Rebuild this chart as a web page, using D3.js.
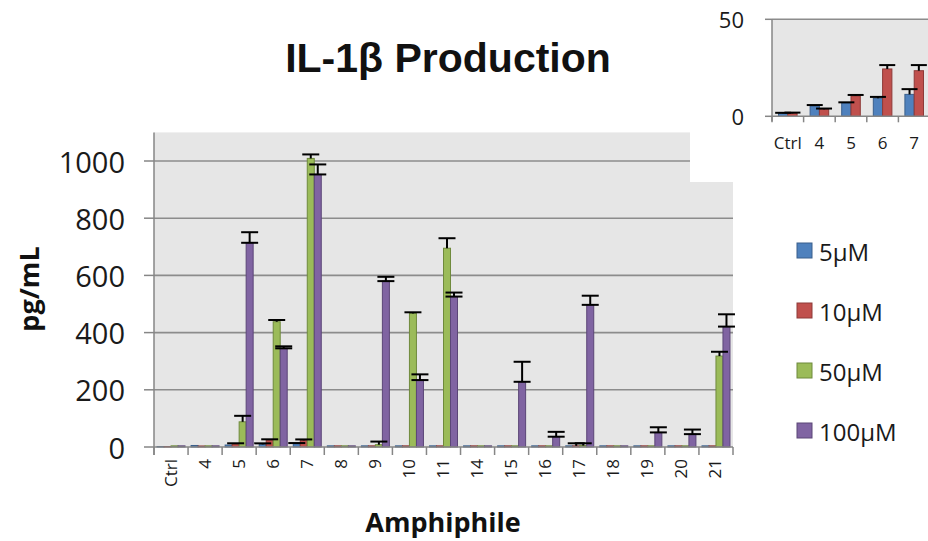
<!DOCTYPE html>
<html><head><meta charset="utf-8">
<script src="https://cdn.jsdelivr.net/npm/d3@7"></script>
<style>body{margin:0;background:#fff}svg{display:block}</style>
</head><body>
<svg id="c" width="928" height="541"></svg>
<script>
// ---- data ----
const categories = ["Ctrl","4","5","6","7","8","9","10","11","14","15","16","17","18","19","20","21"];
const seriesNames = ["5µM","10µM","50µM","100µM"];
const v5   = [1.5,5.3,6.9,9.3,11.3,4,4,4,4,4,4,4,4,4,4,4,4];
const v10  = [1.5,3.6,10.5,24.4,23.5,4,4,4,4,4,4,4,4,4,4,4,4];
const v50  = [4,4,88,438,1009,4,8,467,695,4,4,4,5,4,4,4,318];
const v100 = [4,4,714,345,953,4,580,234,526,4,228,36,497,4,51,45,421];
const e5   = [0,0,0,3.5,2.5,0,0,0,0,0,0,0,0,0,0,0,0];
const e10  = [0,0,2.5,2.5,3,0,0,0,0,0,0,0,9,0,0,0,0];
const e50  = [0,0,21,6,14,0,11,4,35,0,0,0,8,0,0,0,15];
const e100 = [0,0,37,7,35,0,15,20,14,0,70,17,32,0,18,16,43];
// inset (5µM and 10µM, zoomed 0-50)
const insetSeries = ["5µM","10µM"];
const insetVal5  = [1.5,5.3,6.9,9.3,11.3,1.5,1.5,1.5,1.5,1.5,1.5,1.5,1.5,1.5,1.5,1.5,1.5];
const insetVal10 = [1.5,3.6,10.5,24.4,23.5,1.5,1.5,1.5,1.5,1.5,1.5,1.5,1.5,1.5,1.5,1.5,1.5];
const insetErr5  = [0.3,0.5,0.3,0.7,2.7,0.3,0.3,0.3,0.3,0.3,0.3,0.3,0.3,0.3,0.3,0.3,0.3];
const insetErr10 = [0.4,0.4,0.5,2.0,2.9,0.3,0.3,0.3,0.3,0.3,0.3,0.3,0.3,0.3,0.3,0.3,0.3];
const yTicks = [0,200,400,600,800,1000];
const insetTicks = [0,50];

const values = [v5,v10,v50,v100];
const errors = [e5,e10,e50,e100];
const fills   = ["#4F81BD","#C0504D","#9BBB59","#8064A2"];
const strokes = ["#3A5F8C","#8E3A38","#6F8A3C","#5B4677"];

const svg = d3.select("#c");
const FONT = "'Open Sans', sans-serif";
const W = 928;

// ---- main chart ----
const x0 = d3.scaleBand().domain(categories).range([154,733]);
const x1 = d3.scaleBand().domain(seriesNames).range([0,x0.bandwidth()]).paddingInner(0).paddingOuter(0.433);
const y = d3.scaleLinear().domain([0,1000]).range([447,161]);
const yTop = 1100;

svg.append("rect").attr("x",x0.range()[0]).attr("y",y(yTop))
  .attr("width",x0.range()[1]-x0.range()[0]).attr("height",y(0)-y(yTop)).attr("fill","#E6E6E6");

svg.append("g").selectAll("line").data(yTicks.filter(d=>d>0)).join("line")
  .attr("x1",x0.range()[0]).attr("x2",x0.range()[1]).attr("y1",d=>y(d)).attr("y2",d=>y(d))
  .attr("stroke","#8C8C8C").attr("stroke-width",1.6);

// bars
const bars = svg.append("g");
seriesNames.forEach((s,si)=>{
  bars.append("g").selectAll("rect").data(categories.map((c,i)=>({c,v:values[si][i]}))).join("rect")
    .attr("x",d=>x0(d.c)+x1(s)).attr("width",x1.bandwidth())
    .attr("y",d=>y(d.v)).attr("height",d=>y(0)-y(d.v))
    .attr("fill",fills[si]).attr("stroke",strokes[si]).attr("stroke-width",1);
});
// error bars
const eg = svg.append("g").attr("stroke","#000").attr("stroke-width",2);
const capW = 17;
seriesNames.forEach((s,si)=>{
  categories.forEach((c,i)=>{
    const e = errors[si][i]; if(!e) return;
    const v = values[si][i];
    const cx = x0(c)+x1(s)+x1.bandwidth()/2;
    eg.append("line").attr("x1",cx).attr("x2",cx).attr("y1",y(v)).attr("y2",y(v+e));
    eg.append("line").attr("x1",cx-capW/2).attr("x2",cx+capW/2).attr("y1",y(v+e)).attr("y2",y(v+e));
    if(si===3) eg.append("line").attr("x1",cx-capW/2).attr("x2",cx+capW/2).attr("y1",y(v)).attr("y2",y(v));
  });
});

// axes
const axisColor = "#868686";
svg.append("line").attr("x1",154).attr("x2",154).attr("y1",y(yTop)).attr("y2",455).attr("stroke",axisColor).attr("stroke-width",1.5);
svg.append("line").attr("x1",154).attr("x2",733).attr("y1",y(0)).attr("y2",y(0)).attr("stroke",axisColor).attr("stroke-width",1.5);
svg.append("g").selectAll("line").data(yTicks).join("line")
  .attr("x1",144).attr("x2",154).attr("y1",d=>y(d)).attr("y2",d=>y(d)).attr("stroke",axisColor).attr("stroke-width",1.5);
const bounds = categories.map(c=>x0(c)).concat([x0.range()[1]]);
svg.append("g").selectAll("line").data(bounds).join("line")
  .attr("x1",d=>d).attr("x2",d=>d).attr("y1",y(0)).attr("y2",455).attr("stroke",axisColor).attr("stroke-width",1.5);

svg.append("g").selectAll("text").data(yTicks).join("text")
  .attr("x",125).attr("y",d=>y(d)).attr("dominant-baseline","central").attr("text-anchor","end")
  .attr("font-family",FONT).attr("font-size",29).attr("fill","#1a1a1a").text(d=>d);

svg.append("g").selectAll("text").data(categories).join("text")
  .attr("transform",d=>`translate(${x0(d)+x0.bandwidth()/2-1},459) rotate(-90)`)
  .attr("text-anchor","end").attr("dominant-baseline","central")
  .attr("font-family",FONT).attr("font-size",17).attr("fill","#1a1a1a").text(d=>d);

// titles
svg.append("text").attr("x",448).attr("y",72).attr("text-anchor","middle")
  .attr("font-family","'Liberation Sans', Arial, sans-serif").attr("font-weight","bold").attr("font-size",41)
  .attr("fill","#111").text("IL-1β Production");
svg.append("text").attr("x",443).attr("y",532).attr("text-anchor","middle")
  .attr("font-family",FONT).attr("font-weight","bold").attr("font-size",27).attr("fill","#111").text("Amphiphile");
svg.append("text").attr("transform","translate(39,289) rotate(-90)").attr("text-anchor","middle")
  .attr("font-family",FONT).attr("font-weight","bold").attr("font-size",27).attr("fill","#111").text("pg/mL");

// legend
const lg = svg.append("g");
seriesNames.forEach((s,i)=>{
  const cy = 251 + i*60;
  lg.append("rect").attr("x",797).attr("y",cy-8).attr("width",15).attr("height",15)
    .attr("fill",fills[i]).attr("stroke",strokes[i]).attr("stroke-width",1);
  lg.append("text").attr("x",819).attr("y",cy).attr("dominant-baseline","central")
    .attr("font-family",FONT).attr("font-size",24).attr("fill","#1a1a1a").text(s);
});

// ---- inset ----
svg.append("rect").attr("x",690).attr("y",0).attr("width",238).attr("height",182).attr("fill","#fff");
const xi = d3.scaleBand().domain(categories).range([772, 772 + 31.6*categories.length]);
const xi1 = d3.scaleBand().domain(insetSeries).range([0,xi.bandwidth()]).paddingInner(0).paddingOuter(0.7);
const yi = d3.scaleLinear().domain([0,50]).range([116.3,19.3]);
svg.append("rect").attr("x",xi.range()[0]).attr("y",yi(50)).attr("width",xi.range()[1]-xi.range()[0])
  .attr("height",yi(0)-yi(50)).attr("fill","#E6E6E6");
svg.append("line").attr("x1",xi.range()[0]).attr("x2",xi.range()[1]).attr("y1",yi(50)).attr("y2",yi(50))
  .attr("stroke","#8C8C8C").attr("stroke-width",1.5);
const insetVals = [insetVal5,insetVal10], insetErrs = [insetErr5,insetErr10];
insetSeries.forEach((s,si)=>{
  svg.append("g").selectAll("rect").data(categories.map((c,i)=>({c,v:insetVals[si][i]}))).join("rect")
    .attr("x",d=>xi(d.c)+xi1(s)).attr("width",xi1.bandwidth())
    .attr("y",d=>yi(d.v)).attr("height",d=>yi(0)-yi(d.v))
    .attr("fill",fills[si]).attr("stroke",strokes[si]).attr("stroke-width",1);
});
const ig = svg.append("g").attr("stroke","#000").attr("stroke-width",2);
insetSeries.forEach((s,si)=>{
  categories.forEach((c,i)=>{
    const v = insetVals[si][i], e = insetErrs[si][i];
    const cx = xi(c)+xi1(s)+xi1.bandwidth()/2;
    ig.append("line").attr("x1",cx).attr("x2",cx).attr("y1",yi(v)).attr("y2",yi(v+e));
    ig.append("line").attr("x1",cx-8).attr("x2",cx+8).attr("y1",yi(v+e)).attr("y2",yi(v+e));
  });
});
svg.append("line").attr("x1",772).attr("x2",772).attr("y1",yi(50)).attr("y2",yi(0)+5).attr("stroke",axisColor).attr("stroke-width",1.5);
svg.append("line").attr("x1",772).attr("x2",xi.range()[1]).attr("y1",yi(0)).attr("y2",yi(0)).attr("stroke",axisColor).attr("stroke-width",1.5);
svg.append("g").selectAll("line").data(insetTicks).join("line")
  .attr("x1",765).attr("x2",772).attr("y1",d=>yi(d)).attr("y2",d=>yi(d)).attr("stroke",axisColor).attr("stroke-width",1.5);
svg.append("g").selectAll("line").data(categories.map(c=>xi(c))).join("line")
  .attr("x1",d=>d).attr("x2",d=>d).attr("y1",yi(0)).attr("y2",yi(0)+6).attr("stroke",axisColor).attr("stroke-width",1.5);
svg.append("g").selectAll("text").data(insetTicks).join("text")
  .attr("x",744).attr("y",d=>yi(d)).attr("text-anchor","end").attr("dominant-baseline","central")
  .attr("font-family",FONT).attr("font-size",22).attr("fill","#1a1a1a").text(d=>d);
// only the inset labels that fall inside the visible window
svg.append("g").selectAll("text").data(categories.filter(c=>xi(c)+xi.bandwidth()/2 + 8 <= W)).join("text")
  .attr("x",d=>xi(d)+xi.bandwidth()/2).attr("y",142).attr("text-anchor","middle").attr("dominant-baseline","central")
  .attr("font-family",FONT).attr("font-size",17).attr("fill","#1a1a1a").text(d=>d);
</script>
</body></html>
